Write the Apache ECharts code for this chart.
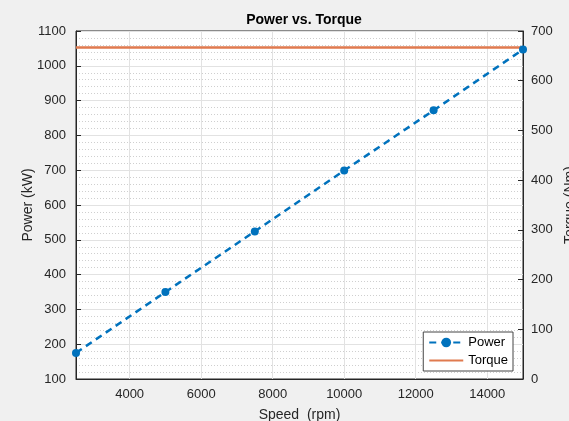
<!DOCTYPE html>
<html>
<head>
<meta charset="utf-8">
<script src="https://cdn.jsdelivr.net/npm/echarts@6/dist/echarts.min.js"></script>
<style>
  html, body { margin: 0; padding: 0; background: #f0f0f0; }
  #chart { width: 569px; height: 421px; }
</style>
</head>
<body>
<div id="chart"></div>
<script>
// speed (rpm) sample points
const speed = [2500, 5000, 7500, 10000, 12500, 15000];
const power = [175, 350, 524, 699, 872, 1047];   // kW
const torque = [667, 667, 667, 667, 667, 667];   // Nm
const xMajor = [4000, 6000, 8000, 10000, 12000, 14000];

const axisColor = '#262626';
const font = 'Liberation Sans, Arial, sans-serif';

const chart = echarts.init(document.getElementById('chart'));
const option = {
    backgroundColor: '#f0f0f0',
    animation: false,
    title: {
        text: 'Power vs. Torque',
        left: 299, top: 8, textAlign: 'center',
        textStyle: { fontFamily: font, fontSize: 14, fontWeight: 'bold', color: '#000' }
    },
    grid: {
        left: 76, right: 46, top: 31, bottom: 42,
        outerBoundsMode: 'none', containLabel: false,
        show: true, backgroundColor: '#fff', borderColor: axisColor, borderWidth: 1
    },
    legend: {
        orient: 'vertical',
        right: 56, bottom: 50,
        backgroundColor: '#fff',
        borderColor: '#444', borderWidth: 1, borderRadius: 0,
        padding: [4, 5, 4, 5],
        itemGap: 5, itemWidth: 34, itemHeight: 12,
        textStyle: { fontFamily: font, fontSize: 13, color: '#000' },
        data: ['Power', { name: 'Torque', itemStyle: { opacity: 0 } }]
    },
    xAxis: {
        type: 'value', min: 2500, max: 15000, interval: 500,
        name: 'Speed  (rpm)', nameLocation: 'middle', nameGap: 29,
        nameTextStyle: { fontFamily: font, fontSize: 14, color: axisColor },
        axisLine: { show: true, lineStyle: { color: axisColor } },
        axisTick: { show: true, inside: true, length: 5, customValues: xMajor, lineStyle: { color: axisColor } },
        axisLabel: {
            customValues: xMajor,
            fontFamily: font, fontSize: 13, color: axisColor, margin: 9,
            formatter: v => (v % 2000 === 0 ? String(v) : '')
        },
        splitLine: { show: true, lineStyle: { color: '#cfcfcf', type: [1, 2] } }
    },
    yAxis: [
        {
            type: 'value', min: 100, max: 1100, interval: 100,
            name: 'Power (kW)', nameLocation: 'middle', nameGap: 41, nameMoveOverlap: false,
            nameTextStyle: { fontFamily: font, fontSize: 14, color: axisColor },
            axisLine: { show: true, lineStyle: { color: axisColor } },
            axisTick: { show: true, inside: true, length: 5, lineStyle: { color: axisColor } },
            axisLabel: { fontFamily: font, fontSize: 13, color: axisColor, margin: 10, formatter: v => String(v) },
            splitLine: { show: true, lineStyle: { color: '#e2e2e2' } },
            minorTick: { show: false, splitNumber: 5 },
            minorSplitLine: { show: true, lineStyle: { color: '#cfcfcf', type: [1, 2] } }
        },
        {
            type: 'value', min: 0, max: 700, interval: 100,
            name: 'Torque (Nm)', nameLocation: 'middle', nameGap: 36,
            nameTextStyle: { fontFamily: font, fontSize: 14, color: axisColor },
            axisLine: { show: true, lineStyle: { color: axisColor } },
            axisTick: { show: true, inside: true, length: 5, lineStyle: { color: axisColor } },
            axisLabel: { fontFamily: font, fontSize: 13, color: axisColor, margin: 8, formatter: v => String(v) },
            splitLine: { show: false }
        }
    ],
    series: [
        {
            name: 'grid',
            type: 'line', data: [], z: 1, silent: true,
            markLine: {
                z: 1,
                silent: true, symbol: 'none', label: { show: false },
                lineStyle: { color: '#e2e2e2', type: 'solid', width: 1 },
                data: xMajor.map(v => ({ xAxis: v }))
            }
        },
        {
            name: 'Power',
            type: 'line', yAxisIndex: 0, z: 3,
            data: speed.map((s, i) => [s, power[i]]),
            color: '#0072bd',
            symbol: 'circle', symbolSize: 8,
            lineStyle: { width: 2.5, type: [7, 5] },
            itemStyle: { color: '#0072bd' }
        },
        {
            name: 'Torque',
            type: 'line', yAxisIndex: 1, z: 2,
            data: speed.map((s, i) => [s, torque[i]]),
            color: '#e07a4f',
            symbol: 'none',
            lineStyle: { width: 2.5, color: '#e07a4f' }
        }
    ]
};
chart.setOption(option);
</script>
</body>
</html>
